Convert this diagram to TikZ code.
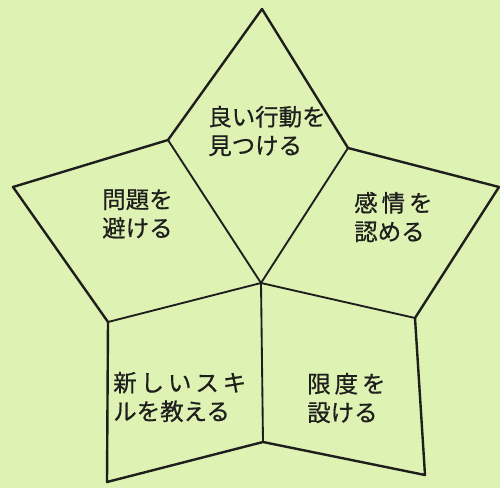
\documentclass[tikz,border=0pt]{standalone}
\usepackage{fontspec}
\newfontfamily\jfont[FakeBold=0.6]{Noto Sans CJK JP}
\definecolor{paper}{RGB}{222,242,180}
\definecolor{ink}{RGB}{30,30,28}
\tikzset{
  edge/.style={draw=ink, line width=1.8pt, line join=round},
  label/.style={anchor=west, align=left, inner sep=0pt, text=ink,
    font=\jfont\fontsize{17.6}{21.5}\selectfont}
}
\begin{document}
\begin{tikzpicture}[x=0.75pt,y=0.75pt,yscale=-1,xscale=1]
        % background
        \fill[paper] (0,0) rectangle (500,488);
        \useasboundingbox (0,0) rectangle (500,488);

        % outer points of the star
        \coordinate (top) at (262,9);
        \coordinate (ul) at (168,140);
        \coordinate (ur) at (348,148);
        \coordinate (lt) at (13,187);
        \coordinate (rt) at (499,187);
        \coordinate (ll) at (108,322);
        \coordinate (lr) at (415,318);
        \coordinate (bl) at (107,482);
        \coordinate (br) at (425,475);
        \coordinate (bm) at (263,442);
        \coordinate (mid) at (261,283);

        % outline
        \draw[edge] (top) -- (ur) -- (rt) -- (lr) -- (br) -- (bm) -- (bl) -- (ll) -- (lt) -- (ul) -- cycle;
        % inner lines
        \draw[edge, line width=1.4pt] (mid) -- (ul);
        \draw[edge, line width=1.4pt] (mid) -- (ur);
        \draw[edge, line width=1.4pt] (mid) -- (ll);
        \draw[edge, line width=1.4pt] (mid) -- (lr);
        \draw[edge, line width=1.4pt] (mid) -- (bm);

        % Text Node
        \node[label] (good) at (208,131) {良い行動を\\見つける};
        % Text Node
        \node[label] (avoid) at (102,214) {問題を\\避ける};
        % Text Node
        \node[label] (feel) at (354,217) {感\,情\,を\\認める};
        % Text Node
        \node[label] (skill) at (113,397) {新\,し\,い\,ス\,キ\\ルを教える};
        % Text Node
        \node[label] (limit) at (307,398) {限\,度\,を\\設ける};

\end{tikzpicture}
\end{document}
